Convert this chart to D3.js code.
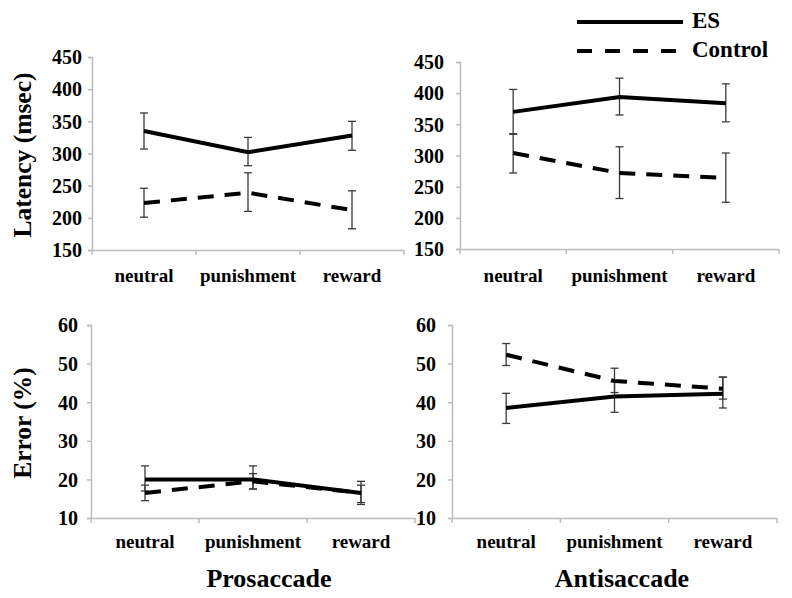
<!DOCTYPE html>
<html>
<head>
<meta charset="utf-8">
<script src="https://cdn.jsdelivr.net/npm/d3@7"></script>
<style>
  html, body { margin: 0; padding: 0; background: #fff; }
  svg text { font-family: "Liberation Serif", "Times New Roman", serif !important; font-weight: bold !important; fill: #000; }
</style>
</head>
<body>
<svg id="chart" width="792" height="598" font-family="Liberation Serif" font-weight="bold"></svg>
<script>
// ---------- data ----------
const categories = ["neutral", "punishment", "reward"];
const seriesNames = ["ES", "Control"];
const latencyTicks = [150, 200, 250, 300, 350, 400, 450];
const errorTicks = [10, 20, 30, 40, 50, 60];

// Prosaccade latency (msec)
const proLatES      = [335, 302, 328];
const proLatESLow   = [307, 281, 305];
const proLatESHigh  = [363, 325, 350];
const proLatCtl     = [223, 239, 212];
const proLatCtlLow  = [201, 210, 183];
const proLatCtlHigh = [246, 270, 242];

// Antisaccade latency (msec)
const antiLatES      = [370, 394, 384];
const antiLatESLow   = [334, 365, 354];
const antiLatESHigh  = [406, 424, 415];
const antiLatCtl     = [304, 272, 264];
const antiLatCtlLow  = [272, 231, 225];
const antiLatCtlHigh = [335, 314, 304];

// Prosaccade error (%)
const proErrES      = [20, 20, 16.5];
const proErrESLow   = [17, 17.5, 13.5];
const proErrESHigh  = [23.5, 23.5, 19.5];
const proErrCtl     = [16.5, 19.5, 16.5];
const proErrCtlLow  = [14.5, 17.5, 14];
const proErrCtlHigh = [18.5, 21.5, 18.5];

// Antisaccade error (%)
const antiErrES      = [38.5, 41.5, 42.2];
const antiErrESLow   = [34.5, 37.4, 38.5];
const antiErrESHigh  = [42.3, 45.3, 46.5];
const antiErrCtl     = [52.3, 45.5, 43.5];
const antiErrCtlLow  = [49.5, 42.5, 40.8];
const antiErrCtlHigh = [55.2, 48.8, 46.5];

// ---------- layout ----------
const FONT = '"Liberation Serif", "Times New Roman", Times, serif';
const svg = d3.select("#chart");

function txt(sel) {
  return sel.attr("font-family", FONT).attr("font-weight", "bold")
    .style("font-family", FONT).style("font-weight", "bold").attr("fill", "#000");
}

function mk(mean, low, high) {
  return categories.map((c, i) => ({ c, v: mean[i], lo: low[i], hi: high[i] }));
}

const panels = [
  { x: [92, 404], y: [250, 57], ticks: latencyTicks, labelGap: 10, catY: 282,
    series: [mk(proLatES, proLatESLow, proLatESHigh), mk(proLatCtl, proLatCtlLow, proLatCtlHigh)] },
  { x: [460, 779], y: [249, 62], ticks: latencyTicks, labelGap: 16, catY: 282,
    series: [mk(antiLatES, antiLatESLow, antiLatESHigh), mk(antiLatCtl, antiLatCtlLow, antiLatCtlHigh)] },
  { x: [91, 415], y: [518, 325], ticks: errorTicks, labelGap: 13, catY: 548,
    series: [mk(proErrES, proErrESLow, proErrESHigh), mk(proErrCtl, proErrCtlLow, proErrCtlHigh)] },
  { x: [452, 777], y: [518, 325], ticks: errorTicks, labelGap: 16, catY: 548,
    series: [mk(antiErrES, antiErrESLow, antiErrESHigh), mk(antiErrCtl, antiErrCtlLow, antiErrCtlHigh)] }
];

const axisColor = "#bdbdbd";
const dashes = [null, "16,11"];

panels.forEach(p => {
  const g = svg.append("g");
  const x = d3.scaleBand().domain(categories).range(p.x).padding(0);
  const y = d3.scaleLinear().domain(d3.extent(p.ticks)).range(p.y);

  // y axis
  const yAx = g.append("g").attr("transform", `translate(${p.x[0]},0)`)
    .call(d3.axisLeft(y).tickValues(p.ticks).tickSize(4).tickPadding(p.labelGap - 4));
  yAx.attr("font-family", FONT).attr("font-size", 20);
  yAx.select(".domain").attr("stroke", axisColor).attr("stroke-width", 1.5);
  yAx.selectAll(".tick line").attr("stroke", axisColor).attr("stroke-width", 1.5);
  txt(yAx.selectAll(".tick text")).attr("font-size", 20).attr("dy", "0.34em");

  // x axis
  const xAx = g.append("g").attr("transform", `translate(0,${p.y[0]})`)
    .call(d3.axisBottom(x).tickSize(0).tickPadding(0));
  xAx.select(".domain").attr("stroke", axisColor).attr("stroke-width", 1.5);
  xAx.selectAll(".tick text").remove();
  // boundary tick marks
  const bounds = categories.map(c => x(c)).concat([x(categories[categories.length - 1]) + x.bandwidth()]);
  g.selectAll(".bt").data(bounds).enter().append("line")
    .attr("x1", d => d).attr("x2", d => d)
    .attr("y1", p.y[0]).attr("y2", p.y[0] + 5)
    .attr("stroke", axisColor).attr("stroke-width", 1.5);
  // category labels
  txt(g.selectAll(".cl").data(categories).enter().append("text")
    .attr("x", d => x(d) + x.bandwidth() / 2).attr("y", p.catY)
    .attr("text-anchor", "middle").attr("font-size", 19).text(d => d));

  const cx = d => x(d.c) + x.bandwidth() / 2;

  // error bars
  p.series.forEach(s => {
    const eb = g.append("g").attr("stroke", "#3a3a3a").attr("stroke-width", 1.3);
    s.forEach(d => {
      eb.append("line").attr("x1", cx(d)).attr("x2", cx(d)).attr("y1", y(d.lo)).attr("y2", y(d.hi));
      eb.append("line").attr("x1", cx(d) - 4).attr("x2", cx(d) + 4).attr("y1", y(d.lo)).attr("y2", y(d.lo));
      eb.append("line").attr("x1", cx(d) - 4).attr("x2", cx(d) + 4).attr("y1", y(d.hi)).attr("y2", y(d.hi));
    });
  });

  // lines
  const line = d3.line().x(cx).y(d => y(d.v));
  p.series.forEach((s, i) => {
    g.append("path").datum(s).attr("d", line)
      .attr("fill", "none").attr("stroke", "#000").attr("stroke-width", 4)
      .attr("stroke-dasharray", dashes[i]);
  });
});

// axis titles
txt(svg.append("text").attr("transform", "translate(31,155) rotate(-90)")
  .attr("text-anchor", "middle").attr("font-size", 25.5).text("Latency (msec)"));
txt(svg.append("text").attr("transform", "translate(31,423) rotate(-90)")
  .attr("text-anchor", "middle").attr("font-size", 25.5).text("Error (%)"));
txt(svg.append("text").attr("x", 269).attr("y", 587).attr("text-anchor", "middle")
  .attr("font-size", 26).text("Prosaccade"));
txt(svg.append("text").attr("x", 622).attr("y", 587).attr("text-anchor", "middle")
  .attr("font-size", 26).text("Antisaccade"));

// legend
const leg = svg.append("g");
seriesNames.forEach((n, i) => {
  const yy = i === 0 ? 22 : 51;
  leg.append("line").attr("x1", 577).attr("x2", i === 0 ? 683 : 676).attr("y1", yy).attr("y2", yy)
    .attr("stroke", "#000").attr("stroke-width", 4).attr("stroke-dasharray", i === 0 ? null : "15,13");
  txt(leg.append("text").attr("x", 692).attr("y", yy + 6).attr("font-size", 23).text(n));
});
</script>
</body>
</html>
